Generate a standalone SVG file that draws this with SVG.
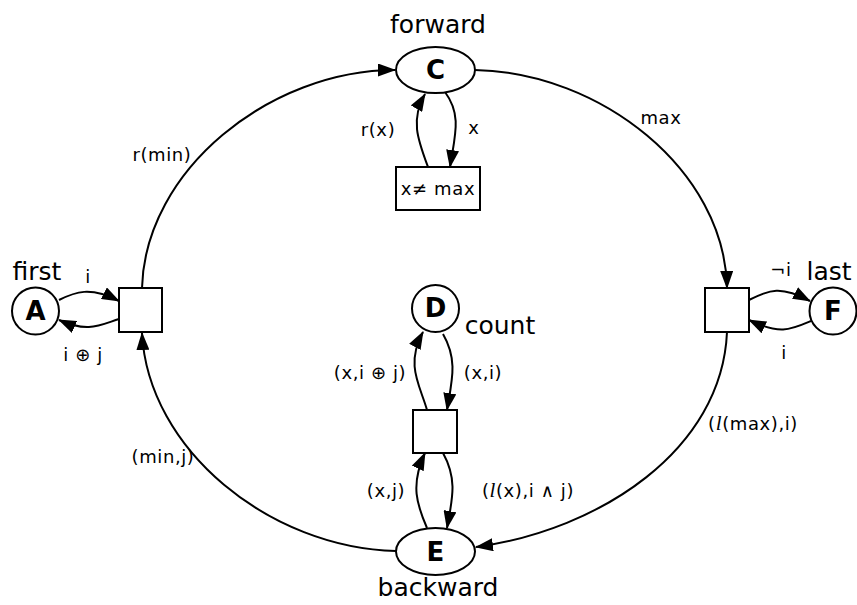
<svg xmlns="http://www.w3.org/2000/svg" width="857" height="605" viewBox="0 0 857 605">
<style>
.n{fill:#fff;stroke:#000;stroke-width:2}
.e{fill:none;stroke:#000;stroke-width:2;marker-end:url(#ah)}
.nl{font-family:"DejaVu Sans",sans-serif;font-weight:bold;font-size:26px;text-anchor:middle}
.t{font-family:"DejaVu Sans",sans-serif;font-size:25px;text-anchor:middle}
.l{font-family:"DejaVu Sans",sans-serif;font-size:18px;letter-spacing:0.6px;text-anchor:middle}
.it{font-family:"Liberation Serif",serif;font-style:italic;font-size:21px}
</style>
<defs>
<marker id="ah" markerUnits="userSpaceOnUse" markerWidth="18" markerHeight="13" refX="17" refY="6.5" orient="auto">
<path d="M0,0 L18,6.5 L0,13 Z" fill="#000"/>
</marker>
</defs>
<rect width="857" height="605" fill="#fff"/>
<g id="connectors">
<path class="e" d="M142,288 C145,170 270,70 395,70"/>
<path class="e" d="M475,70 C600,72 725,170 727,288"/>
<path class="e" d="M396,551 C270,548 148,450 142,333"/>
<path class="e" d="M727,332 C722,450 600,530 476,547"/>
<path class="e" d="M428,167 C418,140 410,120 425,94"/>
<path class="e" d="M445,92 C462,115 455,135 450,167"/>
<path class="e" d="M59,300 C75,292 90,286 119,301"/>
<path class="e" d="M119,319 C100,325 88,333 59,320"/>
<path class="e" d="M749,300 C770,290 780,285 810,301"/>
<path class="e" d="M811,321 C790,330 780,335 749,320"/>
<path class="e" d="M427,410 C420,385 405,365 423,332"/>
<path class="e" d="M443,334 C458,360 452,380 447,410"/>
<path class="e" d="M427,528 C417,505 410,485 425,453"/>
<path class="e" d="M443,453 C458,480 452,500 447,528"/>
</g>
<g id="C"><ellipse class="n" cx="435.5" cy="70" rx="39.5" ry="23"/><text class="nl" x="435.5" y="79">C</text><text class="t" x="438" y="33">forward</text></g>
<g id="guard"><rect class="n" x="396" y="167" width="84" height="43"/><text class="l" x="438" y="195">x≠ max</text></g>
<g id="A"><circle class="n" cx="35.5" cy="311" r="23.5"/><text class="nl" x="35.5" y="320">A</text><text class="t" x="37" y="280">first</text></g>
<g id="T1"><rect class="n" x="119" y="288" width="43" height="44"/></g>
<g id="T2"><rect class="n" x="705" y="288" width="44" height="44"/></g>
<g id="F"><circle class="n" cx="833" cy="311" r="23.5"/><text class="nl" x="833" y="320">F</text><text class="t" x="829" y="280">last</text></g>
<g id="D"><circle class="n" cx="435.5" cy="308.5" r="23.5"/><text class="nl" x="435.5" y="317">D</text><text class="t" x="500" y="334">count</text></g>
<g id="T3"><rect class="n" x="413" y="410" width="44" height="43"/></g>
<g id="E"><ellipse class="n" cx="435.5" cy="551.5" rx="39.5" ry="23.5"/><text class="nl" x="435.5" y="561">E</text><text class="t" x="438" y="596">backward</text></g>
<g id="labels">
<text class="l" x="162" y="161">r(min)</text>
<text class="l" x="661" y="124">max</text>
<text class="l" x="163" y="463">(min,j)</text>
<text class="l" x="753" y="430">(<tspan class="it">l</tspan>(max),i)</text>
<text class="l" x="378" y="136">r(x)</text>
<text class="l" x="474" y="134">x</text>
<text class="l" x="88" y="283">i</text>
<text class="l" x="83" y="361">i ⊕ j</text>
<text class="l" x="781" y="276">¬i</text>
<text class="l" x="784" y="359">i</text>
<text class="l" x="370" y="379">(x,i ⊕ j)</text>
<text class="l" x="483" y="379">(x,i)</text>
<text class="l" x="386" y="497">(x,j)</text>
<text class="l" x="528" y="497">(<tspan class="it">l</tspan>(x),i ∧ j)</text>
</g>
</svg>
